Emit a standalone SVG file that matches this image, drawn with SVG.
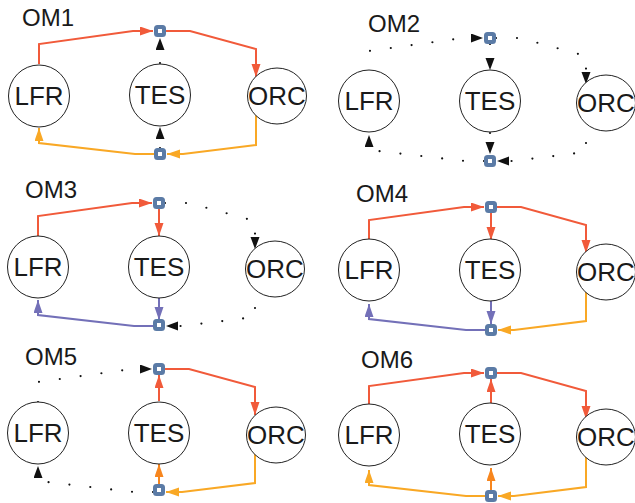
<svg xmlns="http://www.w3.org/2000/svg" width="635" height="503" viewBox="0 0 635 503">
<style>
text{font-family:"Liberation Sans",Arial,sans-serif;fill:#1a1a1a}
.lbl{font-size:26px;text-anchor:middle}
.ttl{font-size:24px}
.node ellipse{fill:#fff;stroke:#222;stroke-width:1}
.sq{fill:#fff;stroke:#5b7ba6;stroke-width:4}
.e{fill:none;stroke-width:2}
.red{stroke:#f15a3a;marker-end:url(#aRed)}
.org{stroke:#f9a825;marker-end:url(#aOrg)}
.dorg{stroke:#f7861e;marker-end:url(#aDorg)}
.pur{stroke:#7370b8;marker-end:url(#aPur)}
.dot{stroke:#111;stroke-dasharray:0 21;stroke-linecap:round;stroke-width:2.2;marker-end:url(#aBlk)}
</style>
<defs>
<marker id="aRed" markerUnits="userSpaceOnUse" markerWidth="14" markerHeight="10" refX="13" refY="4.5" orient="auto"><path d="M0,0 L13,4.5 L0,9 z" fill="#f15a3a"/></marker>
<marker id="aOrg" markerUnits="userSpaceOnUse" markerWidth="14" markerHeight="10" refX="13" refY="4.5" orient="auto"><path d="M0,0 L13,4.5 L0,9 z" fill="#f9a825"/></marker>
<marker id="aDorg" markerUnits="userSpaceOnUse" markerWidth="14" markerHeight="10" refX="13" refY="4.5" orient="auto"><path d="M0,0 L13,4.5 L0,9 z" fill="#f7861e"/></marker>
<marker id="aPur" markerUnits="userSpaceOnUse" markerWidth="14" markerHeight="10" refX="13" refY="4.5" orient="auto"><path d="M0,0 L13,4.5 L0,9 z" fill="#7370b8"/></marker>
<marker id="aBlk" markerUnits="userSpaceOnUse" markerWidth="13" markerHeight="10" refX="12" refY="4.5" orient="auto"><path d="M0,0 L12,4.5 L0,9 z" fill="#111"/></marker>
<rect id="sqr" class="sq" x="-4" y="-4" width="8" height="8" rx="1.5"/>
</defs>

<!-- OM1 -->
<g id="om1">
<text class="ttl" x="22" y="26">OM1</text>
<g transform="translate(160,31)">
<g id="om1-edges">
<path class="e red" d="M-121,33 L-121,13 L-27,0 L-7,0"/>
<path class="e red" d="M6,0 L30,0 L96,18 L96,46"/>
<path class="e org" d="M96,84 L96,114 L23,123 L7,123"/>
<path class="e org" d="M-6,123 L-25,123 L-121,112 L-121,97"/>
<path class="e dot" d="M0,32 L0,7"/>
<path class="e dot" d="M0,117 L0,96"/>
</g>
<g id="om1-lfr" class="node"><ellipse cx="-121" cy="65" rx="30.5" ry="31"/><text class="lbl" x="-121" y="74">LFR</text></g>
<g id="om1-tes" class="node"><ellipse cx="0" cy="64" rx="30.5" ry="31"/><text class="lbl" x="0" y="73">TES</text></g>
<g id="om1-orc" class="node"><ellipse cx="117" cy="65" rx="29.5" ry="28"/><text class="lbl" x="117" y="74">ORC</text></g>
<g id="om1-j1"><use href="#sqr"/></g>
<g id="om1-j2"><use href="#sqr" y="123"/></g>
</g>
</g>

<!-- OM2 -->
<g id="om2">
<text class="ttl" x="368" y="32">OM2</text>
<g transform="translate(490,38)">
<g id="om2-edges">
<path class="e dot" d="M-121,33 L-121,13 L-27,0 L-7,0"/>
<path class="e dot" d="M6,0 L30,0 L96,18 L96,46"/>
<path class="e dot" d="M96,84 L96,114 L23,123 L7,123"/>
<path class="e dot" d="M-6,123 L-25,123 L-121,112 L-121,97"/>
<path class="e dot" d="M0,6 L0,32"/>
<path class="e dot" d="M0,95 L0,116"/>
</g>
<g id="om2-lfr" class="node"><ellipse cx="-121" cy="63" rx="30.5" ry="31"/><text class="lbl" x="-121" y="72">LFR</text></g>
<g id="om2-tes" class="node"><ellipse cx="0" cy="63" rx="30.5" ry="31"/><text class="lbl" x="0" y="72">TES</text></g>
<g id="om2-orc" class="node"><ellipse cx="116" cy="65" rx="29.5" ry="28"/><text class="lbl" x="116" y="74">ORC</text></g>
<g id="om2-j1"><use href="#sqr"/></g>
<g id="om2-j2"><use href="#sqr" y="123"/></g>
</g>
</g>

<!-- OM3 -->
<g id="om3">
<text class="ttl" x="25" y="198">OM3</text>
<g transform="translate(159,203)">
<g id="om3-edges">
<path class="e red" d="M-121,33 L-121,13 L-27,0 L-7,0"/>
<path class="e dot" d="M6,0 L30,0 L96,18 L96,46"/>
<path class="e dot" d="M96,84 L96,114 L23,123 L7,123"/>
<path class="e pur" d="M-6,123 L-25,123 L-121,112 L-121,97"/>
<path class="e red" d="M0,6 L0,33"/>
<path class="e pur" d="M0,94 L0,117"/>
</g>
<g id="om3-lfr" class="node"><ellipse cx="-121" cy="64" rx="30.5" ry="31"/><text class="lbl" x="-121" y="73">LFR</text></g>
<g id="om3-tes" class="node"><ellipse cx="0" cy="64" rx="30.5" ry="31"/><text class="lbl" x="0" y="73">TES</text></g>
<g id="om3-orc" class="node"><ellipse cx="116" cy="66" rx="29.5" ry="28"/><text class="lbl" x="116" y="75">ORC</text></g>
<g id="om3-j1"><use href="#sqr"/></g>
<g id="om3-j2"><use href="#sqr" y="122"/></g>
</g>
</g>

<!-- OM4 -->
<g id="om4">
<text class="ttl" x="356" y="202">OM4</text>
<g transform="translate(491,207)">
<g id="om4-edges">
<path class="e red" d="M-122,33 L-122,13 L-27,0 L-7,0"/>
<path class="e red" d="M6,0 L30,0 L95,18 L95,46"/>
<path class="e org" d="M95,84 L95,114 L23,123 L7,123"/>
<path class="e pur" d="M-6,123 L-25,123 L-122,112 L-122,97"/>
<path class="e red" d="M0,6 L0,33"/>
<path class="e pur" d="M0,94 L0,117"/>
</g>
<g id="om4-lfr" class="node"><ellipse cx="-122" cy="63" rx="30.5" ry="31"/><text class="lbl" x="-122" y="72">LFR</text></g>
<g id="om4-tes" class="node"><ellipse cx="-1" cy="63" rx="30.5" ry="31"/><text class="lbl" x="-1" y="72">TES</text></g>
<g id="om4-orc" class="node"><ellipse cx="115" cy="65" rx="29.5" ry="28"/><text class="lbl" x="115" y="74">ORC</text></g>
<g id="om4-j1"><use href="#sqr"/></g>
<g id="om4-j2"><use href="#sqr" y="123"/></g>
</g>
</g>

<!-- OM5 -->
<g id="om5">
<text class="ttl" x="25" y="365">OM5</text>
<g transform="translate(159,369)">
<g id="om5-edges">
<path class="e dot" d="M-121,33 L-121,13 L-27,0 L-7,0"/>
<path class="e red" d="M6,0 L30,0 L96,18 L96,46"/>
<path class="e org" d="M96,84 L96,114 L23,123 L7,123"/>
<path class="e dot" d="M-6,123 L-25,123 L-121,112 L-121,97"/>
<path class="e red" d="M0,32 L0,6"/>
<path class="e dorg" d="M0,117 L0,95"/>
</g>
<g id="om5-lfr" class="node"><ellipse cx="-121" cy="64" rx="30.5" ry="31"/><text class="lbl" x="-121" y="73">LFR</text></g>
<g id="om5-tes" class="node"><ellipse cx="0" cy="64" rx="30.5" ry="31"/><text class="lbl" x="0" y="73">TES</text></g>
<g id="om5-orc" class="node"><ellipse cx="117" cy="66" rx="29.5" ry="28"/><text class="lbl" x="117" y="75">ORC</text></g>
<g id="om5-j1"><use href="#sqr"/></g>
<g id="om5-j2"><use href="#sqr" y="121"/></g>
</g>
</g>

<!-- OM6 -->
<g id="om6">
<text class="ttl" x="361" y="368">OM6</text>
<g transform="translate(491,373)">
<g id="om6-edges">
<path class="e red" d="M-122,33 L-122,13 L-27,0 L-7,0"/>
<path class="e red" d="M6,0 L30,0 L95,18 L95,46"/>
<path class="e org" d="M95,84 L95,114 L23,123 L7,123"/>
<path class="e org" d="M-6,123 L-25,123 L-122,112 L-122,97"/>
<path class="e red" d="M0,32 L0,6"/>
<path class="e dorg" d="M0,117 L0,95"/>
</g>
<g id="om6-lfr" class="node"><ellipse cx="-122" cy="62" rx="30.5" ry="31"/><text class="lbl" x="-122" y="71">LFR</text></g>
<g id="om6-tes" class="node"><ellipse cx="-1" cy="61" rx="30.5" ry="31"/><text class="lbl" x="-1" y="70">TES</text></g>
<g id="om6-orc" class="node"><ellipse cx="115" cy="64" rx="29.5" ry="28"/><text class="lbl" x="115" y="73">ORC</text></g>
<g id="om6-j1"><use href="#sqr"/></g>
<g id="om6-j2"><use href="#sqr" y="123"/></g>
</g>
</g>
</svg>
